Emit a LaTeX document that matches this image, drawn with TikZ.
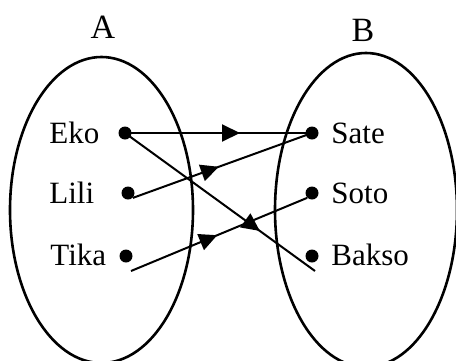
\documentclass[tikz,border=0pt]{standalone}
\usepackage{fontspec}
\setmainfont{Liberation Serif}
\usetikzlibrary{arrows.meta,decorations.markings}
\tikzset{
    dot/.style={circle,fill,inner sep=0pt,minimum size=6.5pt},
    item/.style={anchor=base west,inner sep=0pt},
    setname/.style={anchor=base,inner sep=0pt,font=\fontsize{17}{20}\selectfont},
    maps/.style={line width=1pt,postaction={decorate},
        decoration={markings,mark=at position #1 with {\arrow{Triangle[length=9pt,width=8.5pt]}}}},
}
\begin{document}
\begin{tikzpicture}[x=0.5pt,y=-0.5pt,font=\fontsize{15.5}{18}\selectfont]
    \useasboundingbox (0,0) rectangle (456,360);
    \draw[line width=1.3pt] (101.5,210) ellipse (91.5 and 153);
    \draw[line width=1.3pt] (366,210) ellipse (91 and 157);
    \node[setname] (labelA) at (103,38) {A};
    \node[setname] (labelB) at (363,41) {B};
    \node[dot] (eko) at (125,133) {};
    \node[dot] (lili) at (128,193) {};
    \node[dot] (tika) at (126,256) {};
    \node[dot] (sate) at (312,133) {};
    \node[dot] (soto) at (312,193) {};
    \node[dot] (bakso) at (312,256) {};
    \node[item] at (49,143) {Eko};
    \node[item] at (49,203) {Lili};
    \node[item] at (50,265) {Tika};
    \node[item] at (331,143) {Sate};
    \node[item] at (331,203) {Soto};
    \node[item] at (331,265) {Bakso};
    \coordinate (tikaStart) at (131,271);
    \coordinate (baksoEnd) at (315,271);
    \draw[maps=0.615] (eko.center) -- (sate.center);
    \draw[maps=0.48] (lili.south east) -- (sate.center);
    \draw[maps=0.49] (tikaStart) -- (soto.south west);
    \draw[maps=0.71] (eko.center) -- (baksoEnd);
\end{tikzpicture}
\end{document}
